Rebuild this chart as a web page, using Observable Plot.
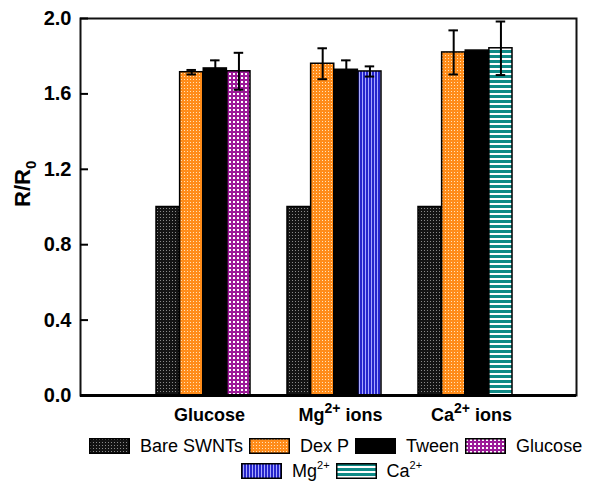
<!DOCTYPE html>
<html><head><meta charset="utf-8">
<script src="https://cdn.jsdelivr.net/npm/d3@7"></script>
<script src="https://cdn.jsdelivr.net/npm/@observablehq/plot@0.6"></script>
<style>
body{margin:0;background:#fff;font-family:Arial,"Liberation Sans",sans-serif;}
#wrap{position:relative;width:600px;height:496px;overflow:hidden;}
.row{position:absolute;display:flex;align-items:center;font-size:18px;color:#000;white-space:nowrap;line-height:18px;}
.sw{width:41px;height:16px;margin-right:10px;display:block;}
.lab{margin-right:6px;}
sup{font-size:11px;line-height:0;vertical-align:8px;}
</style></head><body>
<svg width="0" height="0" style="position:absolute">
<defs>
<pattern id="pBare" patternUnits="userSpaceOnUse" width="3" height="3"><rect width="3" height="3" fill="#141414"/><rect x="1" y="1" width="1" height="1" fill="#8a8a8a"/></pattern>
<pattern id="pDex" patternUnits="userSpaceOnUse" width="3" height="3"><rect width="3" height="3" fill="#ff8c1a"/><rect x="1" y="1" width="1" height="1" fill="#ffe2b8"/></pattern>
<pattern id="pTween" patternUnits="userSpaceOnUse" width="3" height="3"><rect width="3" height="3" fill="#000"/></pattern>
<pattern id="pGlu" patternUnits="userSpaceOnUse" width="4" height="4"><rect width="4" height="4" fill="#9c1a98"/><rect x="1" y="1" width="2" height="2" fill="#ffffff"/></pattern>
<pattern id="pMg" patternUnits="userSpaceOnUse" width="3" height="3"><rect width="3" height="3" fill="#2626cc"/><rect x="2" y="0" width="1" height="3" fill="#a8a8ff"/></pattern>
<pattern id="pCa" patternUnits="userSpaceOnUse" width="5" height="5"><rect width="5" height="5" fill="#0e8a86"/><rect x="0" y="3" width="5" height="2" fill="#ffffff"/></pattern>
</defs></svg>
<div id="wrap"></div>
<script>
// ---- data ----
const groups = ["Glucose", "Mg", "Ca"];
const groupLabels = ["Glucose", "Mg2+ ions", "Ca2+ ions"];
const seriesNames = ["Bare SWNTs", "Dex P", "Tween", "Glucose", "Mg2+", "Ca2+"];
const seriesPatterns = ["url(#pBare)", "url(#pDex)", "url(#pTween)", "url(#pGlu)", "url(#pMg)", "url(#pCa)"];
const bareValues = [1.0, 1.0, 1.0];
const bareErrors = [0, 0, 0];
const dexPValues = [1.715, 1.76, 1.82];
const dexPErrors = [0.012, 0.082, 0.117];
const tweenValues = [1.735, 1.728, 1.83];
const tweenErrors = [0.043, 0.05, 0];
const additiveNames = ["Glucose", "Mg2+", "Ca2+"];
const additiveValues = [1.72, 1.719, 1.842];
const additiveErrors = [0.098, 0.027, 0.142];
const yTicks = [0, 0.4, 0.8, 1.2, 1.6, 2.0];

// ---- table ----
const rows = [];
groups.forEach((g, i) => {
  rows.push({group: g, slot: 0, series: "Bare SWNTs", value: bareValues[i], err: bareErrors[i]});
  rows.push({group: g, slot: 1, series: "Dex P", value: dexPValues[i], err: dexPErrors[i]});
  rows.push({group: g, slot: 2, series: "Tween", value: tweenValues[i], err: tweenErrors[i]});
  rows.push({group: g, slot: 3, series: additiveNames[i], value: additiveValues[i], err: additiveErrors[i]});
});

// ---- layout ----
const W = 600, H = 430, mL = 80, mR = 24, mT = 18, mB = 35;
const inL = 39, inR = 26.5, pad = 0.28;
const step = (W - mL - mR - inL - inR) / (groups.length - pad + 2 * pad);
const bw = step * (1 - pad);
const w = bw / 4;
const cap = 10;

const marks = [Plot.frame({stroke: "#111", strokeWidth: 2})];
for (let s = 0; s < 4; s++) {
  const d = rows.filter(r => r.slot === s);
  marks.push(Plot.barY(d, {x: "group", y: "value", fill: "series", stroke: "black", strokeWidth: 1.5,
    insetLeft: s * w, insetRight: (3 - s) * w}));
}
for (let s = 0; s < 4; s++) {
  const d = rows.filter(r => r.slot === s && r.err > 0);
  marks.push(Plot.ruleX(d, {x: "group", y1: r => r.value - r.err, y2: r => r.value + r.err,
    stroke: "black", strokeWidth: 2, dx: (s - 1.5) * w}));
  const ci = s * w + (w - cap) / 2, cr = (3 - s) * w + (w - cap) / 2;
  marks.push(Plot.tickY(d, {x: "group", y: r => r.value + r.err, stroke: "black", strokeWidth: 2, insetLeft: ci, insetRight: cr}));
  marks.push(Plot.tickY(d, {x: "group", y: r => r.value - r.err, stroke: "black", strokeWidth: 2, insetLeft: ci, insetRight: cr}));
}
marks.push(Plot.ruleY([0], {stroke: "black", strokeWidth: 3}));
marks.push(Plot.axisY({ticks: yTicks, tickFormat: d3.format(".1f"), tickSize: -8, tickPadding: 17,
  fontSize: 20, fontWeight: "bold", label: null, strokeWidth: 2}));
marks.push(Plot.axisX({tickSize: 0, tickPadding: 13, tickFormat: g => groupLabels[groups.indexOf(g)],
  fontSize: 18, fontWeight: "bold", label: null, dx: 6}));
marks.push(Plot.text(["R/R0"], {text: d => d, frameAnchor: "left", dx: -58, rotate: -90,
  fontSize: 22, fontWeight: "bold"}));

const chart = Plot.plot({
  width: W, height: H, marginLeft: mL, marginRight: mR, marginTop: mT, marginBottom: mB,
  style: {fontFamily: "Arial, 'Liberation Sans', sans-serif", color: "black", background: "white"},
  x: {type: "band", domain: groups, padding: pad, insetLeft: inL, insetRight: inR, axis: null},
  y: {domain: [0, 2], axis: null},
  color: {type: "ordinal", domain: seriesNames, range: seriesPatterns},
  marks
});

// superscripts / subscripts as tspans
d3.select(chart).selectAll("text").each(function() {
  const t = d3.select(this);
  const s = this.textContent;
  const m = s.match(/^(Mg|Ca)2\+ ions$/);
  if (m) {
    t.text(null);
    t.append("tspan").text(m[1]);
    t.append("tspan").attr("dy", -8).attr("font-size", 14).text("2+");
    t.append("tspan").attr("dy", 8).text(" ions");
  } else if (s === "R/R0") {
    t.text(null);
    t.append("tspan").text("R/R");
    t.append("tspan").attr("dy", 6).attr("font-size", 15).text("0");
  }
});

const wrap = document.getElementById("wrap");
wrap.appendChild(chart);

// legend
function legendRow(items, top, left) {
  const row = document.createElement("div");
  row.className = "row";
  row.style.top = top + "px";
  row.style.left = left + "px";
  items.forEach(name => {
    const i = seriesNames.indexOf(name);
    const sw = document.createElementNS("http://www.w3.org/2000/svg", "svg");
    sw.setAttribute("class", "sw");
    sw.setAttribute("width", 41); sw.setAttribute("height", 16);
    const r = document.createElementNS("http://www.w3.org/2000/svg", "rect");
    r.setAttribute("x", 0.75); r.setAttribute("y", 0.75); r.setAttribute("width", 39.5); r.setAttribute("height", 14.5);
    r.setAttribute("fill", seriesPatterns[i]); r.setAttribute("stroke", "black"); r.setAttribute("stroke-width", 1.5);
    sw.appendChild(r);
    row.appendChild(sw);
    const lab = document.createElement("span");
    lab.className = "lab";
    const mm = name.match(/^(Mg|Ca)2\+$/);
    if (mm) { lab.innerHTML = mm[1] + "<sup>2+</sup>"; } else { lab.textContent = name; }
    row.appendChild(lab);
  });
  wrap.appendChild(row);
}
legendRow(["Bare SWNTs", "Dex P", "Tween", "Glucose"], 437, 89);
legendRow(["Mg2+", "Ca2+"], 462, 241);
</script>
</body></html>
